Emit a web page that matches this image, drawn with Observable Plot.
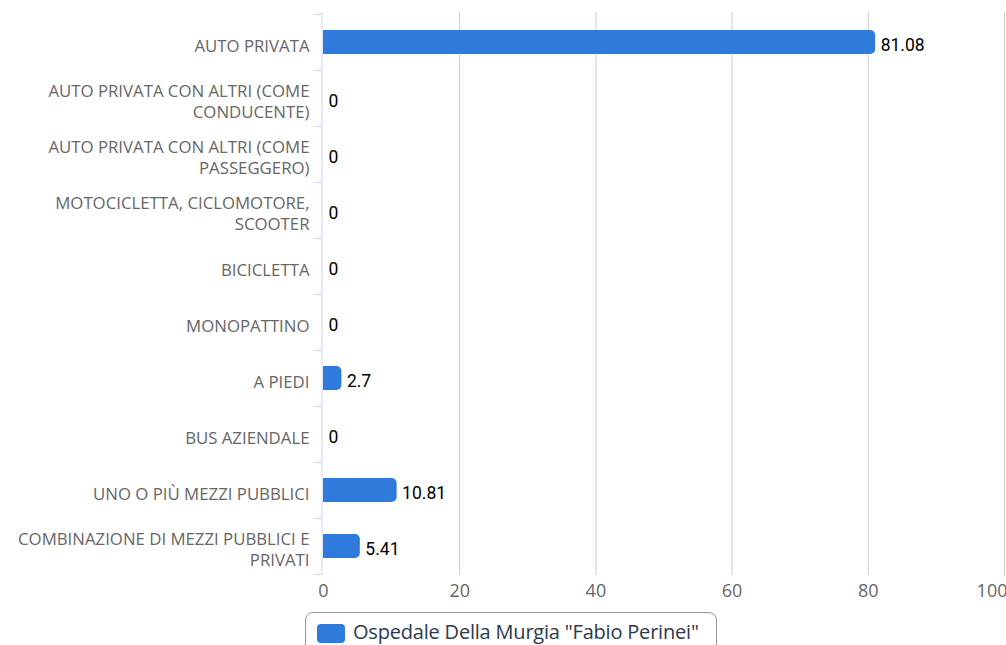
<!DOCTYPE html>
<html><head><meta charset="utf-8">
<script src="https://cdn.jsdelivr.net/npm/d3@7"></script>
<script src="https://cdn.jsdelivr.net/npm/@observablehq/plot@0.6"></script>
<style>
body{margin:0;background:#fff;overflow:hidden;}
#wrap{position:relative;width:1006px;height:645px;}
#legend{position:absolute;left:305px;top:612px;width:412px;height:44px;border:1px solid #999;border-radius:8px;box-sizing:border-box;background:#fff;}
#legend .sw{position:absolute;left:11px;top:11px;width:28px;height:19px;border-radius:4px;background:#2E7BDB;}
#legend .lb{position:absolute;left:47px;top:5px;font-family:"Open Sans";font-size:20px;color:#2b3a4c;white-space:nowrap;letter-spacing:-0.2px;}
</style>
</head><body>
<div id="wrap"><div id="chart"></div>
<div id="legend"><div class="sw"></div><div class="lb" id="lbl"></div></div>
</div>
<script>
const categories = [
  "AUTO PRIVATA",
  "AUTO PRIVATA CON ALTRI (COME CONDUCENTE)",
  "AUTO PRIVATA CON ALTRI (COME PASSEGGERO)",
  "MOTOCICLETTA, CICLOMOTORE, SCOOTER",
  "BICICLETTA",
  "MONOPATTINO",
  "A PIEDI",
  "BUS AZIENDALE",
  "UNO O PIÙ MEZZI PUBBLICI",
  "COMBINAZIONE DI MEZZI PUBBLICI E PRIVATI"
];
const tickLabels = [
  "AUTO PRIVATA",
  "AUTO PRIVATA CON ALTRI (COME\nCONDUCENTE)",
  "AUTO PRIVATA CON ALTRI (COME\nPASSEGGERO)",
  "MOTOCICLETTA, CICLOMOTORE,\nSCOOTER",
  "BICICLETTA",
  "MONOPATTINO",
  "A PIEDI",
  "BUS AZIENDALE",
  "UNO O PIÙ MEZZI PUBBLICI",
  "COMBINAZIONE DI MEZZI PUBBLICI E\nPRIVATI"
];
const values = [81.08, 0, 0, 0, 0, 0, 2.7, 0, 10.81, 5.41];
const xTicks = [0, 20, 40, 60, 80, 100];
const seriesName = 'Ospedale Della Murgia "Fabio Perinei"';

const data = categories.map((c, i) => ({cat: c, value: values[i]}));
const labelOf = new Map(categories.map((c, i) => [c, tickLabels[i]]));
const blue = "#2E7BDB";
const lastTick = xTicks[xTicks.length - 1];

const chart = Plot.plot({
  width: 1006,
  height: 605,
  marginLeft: 323,
  marginRight: 2,
  marginTop: 12,
  marginBottom: 30,
  style: {fontFamily: "Open Sans", background: "#fff", overflow: "visible"},
  x: {domain: [0, 100], ticks: xTicks},
  y: {domain: categories, padding: 0},
  marks: [
    Plot.gridX({ticks: xTicks.filter(d => d > 0), stroke: "#cccccc", strokeOpacity: 1}),
    Plot.axisX({ticks: xTicks.filter(d => d < lastTick), tickSize: 0, tickPadding: 9, fontSize: 18, fill: "#666", label: null}),
    Plot.axisX({ticks: [lastTick], tickSize: 0, tickPadding: 9, fontSize: 18, fill: "#666", label: null, textAnchor: "end", dx: 3}),
    Plot.axisY({tickSize: 0, tickPadding: 14, fontSize: 16.8, fill: "#666", label: null, lineHeight: 1.3,
      tickFormat: d => labelOf.get(d), dy: 2}),
    Plot.barX(data, {x: "value", y: "cat", fill: blue, insetTop: 16, insetBottom: 16, rx: 5}),
    Plot.barX(data.filter(d => d.value > 0), {x1: 0, x2: d => d.value / 2, y: "cat", fill: blue, insetTop: 16, insetBottom: 16}),
    Plot.ruleX([0], {stroke: "#ccd6eb", strokeWidth: 1, dx: -1.5}),
    Plot.text(data, {x: "value", y: "cat", text: d => String(d.value), dx: 5, dy: 3, textAnchor: "start",
      fill: "#000", fontSize: 17.5, fontFamily: "Roboto"})
  ]
});
document.getElementById("chart").appendChild(chart);
document.getElementById("lbl").textContent = seriesName;

// band-boundary tick marks on the category axis
const ys = chart.scale("y");
const xs = chart.scale("x");
const svg = d3.select(chart);
const x0 = xs.apply(0) - 1.5;
const bounds = categories.map(c => ys.apply(c)).concat([ys.apply(categories[categories.length - 1]) + ys.bandwidth]);
svg.append("g").selectAll("line").data(bounds).join("line")
  .attr("x1", x0 - 7).attr("x2", x0).attr("y1", d => d + 0.5).attr("y2", d => d + 0.5)
  .attr("stroke", "#ccd6eb").attr("stroke-width", 1);
</script>
</body></html>
